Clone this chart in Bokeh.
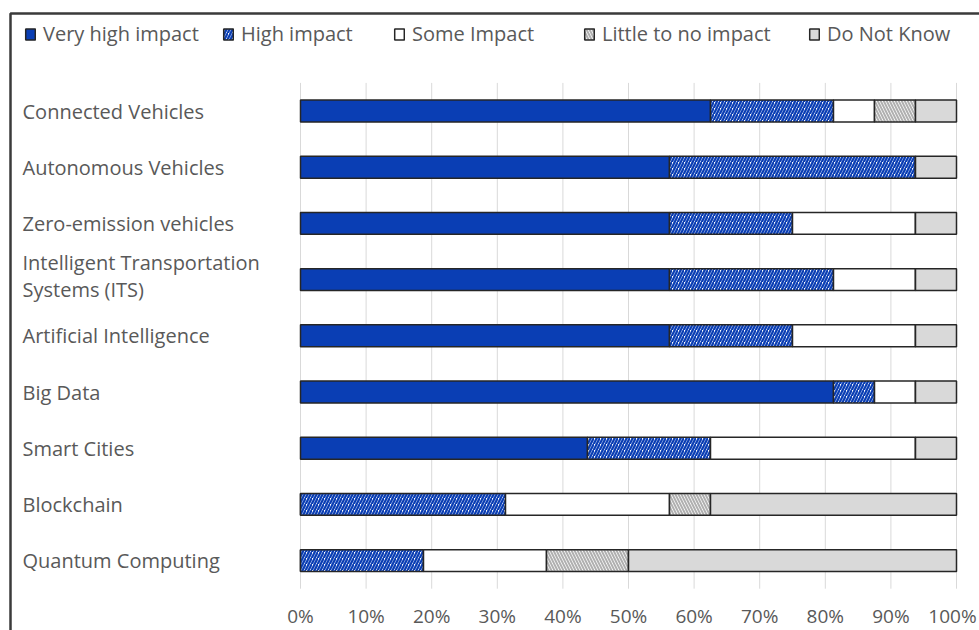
from bokeh.plotting import figure
from bokeh.models import (ColumnDataSource, Range1d, Legend, LegendItem,
                          BoxAnnotation)
from bokeh.core.properties import value
from bokeh.embed import file_html
from bokeh.resources import INLINE

# Survey: expected impact of each technology (share of respondents, %)
technologies = [
    "Connected Vehicles",
    "Autonomous Vehicles",
    "Zero-emission vehicles",
    "Intelligent Transportation\nSystems (ITS)",
    "Artificial Intelligence",
    "Big Data",
    "Smart Cities",
    "Blockchain",
    "Quantum Computing",
]
very_high = [62.5, 56.25, 56.25, 56.25, 56.25, 81.25, 43.75, 0.0, 0.0]
high = [18.75, 37.5, 18.75, 25.0, 18.75, 6.25, 18.75, 31.25, 18.75]
some = [6.25, 0.0, 18.75, 12.5, 18.75, 6.25, 31.25, 25.0, 18.75]
little = [6.25, 0.0, 0.0, 0.0, 0.0, 0.0, 0.0, 6.25, 12.5]
dont_know = [6.25, 6.25, 6.25, 6.25, 6.25, 6.25, 6.25, 37.5, 50.0]

series_keys = ["very_high", "high", "some", "little", "dont_know"]
series_labels = ["Very high impact", "High impact", "Some Impact",
                 "Little to no impact", "Do Not Know"]
tick_values = [0, 10, 20, 30, 40, 50, 60, 70, 80, 90, 100]
tick_labels = ["0%", "10%", "20%", "30%", "40%", "50%", "60%", "70%", "80%", "90%", "100%"]

FONT = "Open Sans"
TEXT = "#595959"
EDGE = "#262626"
BLUE = "#0a3eb4"

rows = list(range(len(technologies)))  # row 0 at the top
# two-line labels sit slightly above their bar
label_dy = [-4 if "\n" in t else 0 for t in technologies]
source = ColumnDataSource(dict(
    row=rows, tech=technologies, label_dy=label_dy,
    very_high=very_high, high=high, some=some,
    little=little, dont_know=dont_know,
))

# canvas geometry (pixels); the plotting frame fills the whole canvas
W, H = 979, 630
zero_px, hundred_px = 300, 956
px_per_x = (hundred_px - zero_px) / 100.0
first_row_px, row_px = 110.5, 56.2

p = figure(width=W, height=H, output_backend="svg", toolbar_location=None,
           x_range=Range1d(-zero_px / px_per_x, (W - zero_px) / px_per_x),
           y_range=Range1d((H - first_row_px) / row_px, -first_row_px / row_px),
           x_axis_location=None, y_axis_location=None,
           min_border=0)
p.outline_line_color = None
p.background_fill_color = "white"
p.border_fill_color = "white"
p.xgrid.visible = False
p.ygrid.visible = False

# vertical gridlines spanning the band of rows only
n = len(technologies)
p.segment(x0=tick_values, x1=tick_values, y0=[-0.5] * len(tick_values),
          y1=[n - 0.5] * len(tick_values), line_color="#d9d9d9", line_width=1)

renderers = p.hbar_stack(series_keys, y="row", height=0.39, source=source,
                         line_color=EDGE, line_width=1.5)

styles = [
    dict(fill_color=BLUE),
    dict(fill_color="white", hatch_pattern="right_diagonal_line",
         hatch_color=BLUE, hatch_scale=6, hatch_weight=2.3),
    dict(fill_color="white"),
    dict(fill_color="white", hatch_pattern="left_diagonal_line",
         hatch_color="#b0b0b0", hatch_scale=6, hatch_weight=2),
    dict(fill_color="#d9d9d9"),
]
for r, st in zip(renderers, styles):
    for k, v in st.items():
        setattr(r.glyph, k, v)

# category labels, left-aligned in the margin
p.text(x=0, y="row", text="tech", source=source,
       x_offset=22 - zero_px, y_offset="label_dy",
       text_align="left", text_baseline="middle",
       text_font=value(FONT), text_font_size="20px", text_color=TEXT,
       text_line_height=1.0)

# percentage tick labels under the rows; the last one is nudged to stay on canvas
tick_dx = [0] * (len(tick_values) - 1) + [-4]
p.text(x=tick_values, y=[n - 1] * len(tick_values), text=tick_labels,
       x_offset=tick_dx, y_offset=55, text_align="center", text_baseline="middle",
       text_font=value(FONT), text_font_size="19px", text_color=TEXT)

# one legend per entry so each sits at its own spot along the top
legend_x = [24, 222, 393, 583, 808]
for r, lab, lx in zip(renderers, series_labels, legend_x):
    lg = Legend(items=[LegendItem(label=lab, renderers=[r])],
                location=(lx, H - 20 - 27),
                padding=0, margin=0, spacing=0,
                border_line_color=None, background_fill_alpha=0,
                glyph_width=12, glyph_height=14, label_standoff=7,
                label_height=20,
                label_text_font=FONT, label_text_font_size="20px",
                label_text_color=TEXT)
    p.add_layout(lg, "center")

# chart frame
p.add_layout(BoxAnnotation(left=10, right=W + 20, top=13, bottom=H + 20,
                           left_units="canvas", right_units="canvas",
                           top_units="canvas", bottom_units="canvas",
                           fill_alpha=0, line_color="#3a3a3a",
                           line_alpha=1.0, line_width=2.5))

open("out.html", "w").write(file_html(p, INLINE))
